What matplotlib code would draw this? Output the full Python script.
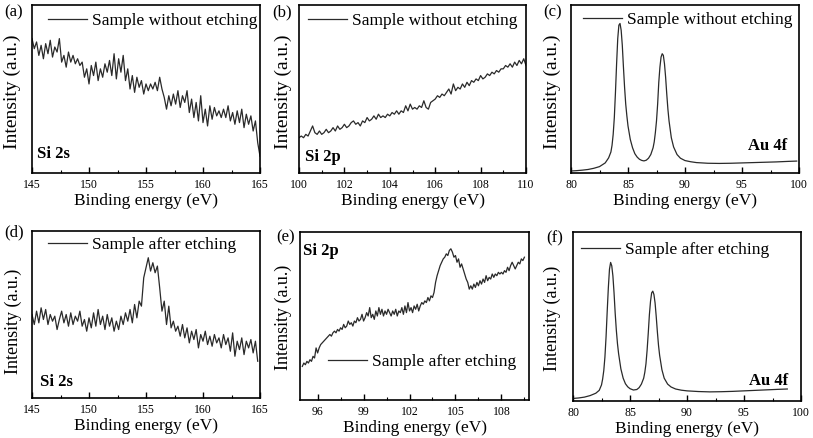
import numpy as np
import matplotlib.pyplot as plt
from matplotlib.ticker import MultipleLocator

plt.rcParams['font.family'] = ['Liberation Serif', 'DejaVu Serif']

W, H = 813, 438

# ---- data (intensity in % of panel height) ----
# (a) Si 2s, without etching: 145-165 eV, step 0.2 eV
si2s_before = [80, 74, 78, 70, 76, 68, 77, 71, 79, 69,
               75, 72, 80, 66, 70, 63, 72, 66, 70, 65,
               68, 64, 66, 57, 62, 53, 64, 58, 66, 55,
               62, 57, 65, 60, 67, 58, 71, 56, 68, 60,
               70, 55, 62, 50, 58, 48, 57, 51, 55, 47,
               53, 49, 53, 50, 54, 49, 57, 50, 45, 38,
               46, 40, 47, 41, 49, 39, 46, 42, 49, 36,
               44, 33, 42, 31, 46, 30, 38, 28, 40, 32,
               39, 34, 37, 33, 38, 33, 40, 31, 36, 29,
               37, 30, 38, 27, 35, 29, 34, 25, 31, 18,
               10]
# (d) Si 2s, after etching: 145-164.8 eV, step 0.2 eV
si2s_after = [50, 44, 52, 45, 54, 47, 53, 44, 50, 46,
              49, 41, 47, 52, 45, 50, 43, 51, 44, 49,
              46, 52, 43, 47, 40, 48, 42, 51, 43, 53,
              44, 49, 41, 50, 43, 48, 40, 46, 41, 49,
              44, 51, 46, 53, 45, 56, 48, 58, 55, 72,
              78, 84, 76, 81, 75, 79, 66, 52, 58, 44,
              55, 42, 46, 40, 43, 37, 44, 36, 42, 33,
              40, 35, 41, 30, 38, 34, 40, 32, 37, 31,
              38, 33, 36, 30, 38, 32, 36, 28, 39, 25,
              34, 29, 36, 26, 34, 30, 35, 27, 34, 22]
# (b) Si 2p, without etching: 100-110 eV, step 0.1 eV
si2p_before = [21, 22, 21, 23, 22, 25, 28, 24, 23, 25,
               23, 24, 26, 24, 25, 27, 25, 28, 26, 27,
               29, 27, 28, 30, 31, 29, 30, 28, 31, 30,
               33, 31, 32, 34, 32, 35, 33, 34, 33, 35,
               34, 36, 35, 37, 35, 37, 36, 40, 37, 41,
               38, 39, 38, 40, 39, 43, 39, 38, 42, 43,
               44, 46, 45, 47, 46, 48, 50, 47, 53, 49,
               51, 50, 53, 51, 54, 52, 55, 54, 56, 55,
               58, 56, 57, 59, 58, 60, 59, 61, 60, 62,
               62, 64, 63, 65, 63, 66, 64, 67, 65, 68,
               64]
# (e) Si 2p, after etching: 95-109.5 eV, step 0.1 eV
si2p_after = [20, 22, 21, 23, 22, 24, 23, 26, 25, 31,
              28, 31, 33, 34, 35, 36, 37, 38, 39, 38,
              40, 41, 40, 42, 41, 43, 42, 45, 43, 44,
              47, 45, 46, 44, 47, 46, 49, 47, 48, 51,
              47, 49, 52, 50, 55, 49, 51, 48, 53, 50,
              55, 51, 54, 50, 53, 51, 54, 52, 50, 53,
              51, 54, 50, 53, 52, 55, 51, 56, 52, 58,
              53, 55, 52, 56, 54, 57, 53, 56, 58, 57,
              59, 58, 61, 59, 62, 61, 64, 70, 74, 77,
              80, 82, 84, 85, 87, 86, 89, 90, 88, 85,
              86, 82, 84, 79, 81, 78, 75, 72, 70, 66,
              68, 66, 69, 67, 70, 68, 71, 69, 72, 70,
              74, 71, 73, 72, 75, 73, 75, 74, 76, 75,
              76, 75, 77, 76, 79, 77, 80, 82, 80, 78,
              80, 82, 81, 84, 83, 85]
# (c) Au 4f, without etching
au_before_e = [80.0, 80.5, 81.0, 81.5, 82.0, 82.5, 83.0, 83.3,
               83.5, 83.6, 83.7, 83.8, 83.9, 84.0, 84.1, 84.2, 84.3, 84.4,
               84.5, 84.6, 84.7, 84.8, 84.9, 85.0,
               85.2, 85.4, 85.6, 85.8, 86.0, 86.2, 86.4, 86.6, 86.8, 87.0, 87.2,
               87.3, 87.4, 87.5, 87.6, 87.7, 87.8, 87.9, 88.0, 88.1, 88.2,
               88.3, 88.4, 88.5, 88.6,
               88.8, 89.0, 89.3, 89.6, 90.0, 90.5, 91.0,
               92.0, 93.0, 94.0, 95.0, 96.0, 97.0, 98.0, 99.0, 99.8]
au_before_i = [1.2, 1.4, 1.7, 2.1, 2.8, 3.8, 6.0, 9,
               12.5, 16.5, 23, 33, 48, 65, 80, 88, 89, 85,
               76, 63, 51, 41, 34, 28,
               20, 15, 11.5, 9.5, 8.2, 7.5, 7.2, 7.6, 8.8, 11, 15,
               18.5, 24, 31, 41, 54, 63, 69, 71, 70, 65,
               57, 47, 38, 31,
               21, 15.5, 11, 8.8, 7.4, 6.7, 6.2,
               5.8, 5.7, 5.8, 6.0, 6.2, 6.4, 6.6, 6.9, 7.1]
# (f) Au 4f, after etching
au_after_e = [80.0, 80.5, 81.0, 81.5, 82.0, 82.3,
              82.5, 82.6, 82.7, 82.8, 82.9, 83.0, 83.1, 83.2, 83.3, 83.4,
              83.5, 83.6, 83.7, 83.8, 83.9,
              84.0, 84.2, 84.4, 84.6, 84.8, 85.0, 85.3, 85.6, 85.8, 86.0, 86.2,
              86.3, 86.4, 86.5, 86.6, 86.7, 86.8, 86.9, 87.0, 87.1, 87.2,
              87.3, 87.4, 87.5, 87.6,
              87.8, 88.0, 88.3, 88.6, 89.0, 89.5, 90.0,
              91.0, 92.0, 93.0, 94.0, 95.0, 96.0, 97.0, 98.0, 98.8]
au_after_i = [1.5, 1.8, 2.3, 3.2, 4.6, 6.3,
              9.5, 13, 18, 26, 38, 53, 67, 78, 82, 80,
              74, 64, 52, 42, 34,
              28, 19, 13.5, 10.2, 8.4, 7.3, 6.5, 6.8, 7.9, 10, 13.5,
              17, 22, 30, 40, 51, 59, 64, 65, 63, 58,
              50, 41, 33, 27,
              18.5, 13.5, 10, 8.3, 7.1, 6.4, 6.0,
              5.6, 5.4, 5.5, 5.7, 6.0, 6.3, 6.6, 6.9, 7.1]

legend_before = 'Sample without etching'
legend_after = 'Sample after etching'

fig = plt.figure(figsize=(W / 100, H / 100), dpi=100)


def px_axes(l, t, r, b):
    return fig.add_axes([l / W, 1 - b / H, (r - l) / W, (b - t) / H])


def fig_pt(x, y):
    return x / W, 1 - y / H


def setup(ax, xlim, major, minor, ylab_x, ylab_y, ylab_size):
    ax.set_xlim(*xlim)
    ax.set_ylim(0, 100)
    ax.set_yticks([])
    ax.xaxis.set_major_locator(MultipleLocator(major))
    ax.xaxis.set_minor_locator(MultipleLocator(minor))
    ax.tick_params(axis='x', which='major', direction='in', length=4,
                   width=1, labelsize=8.5, pad=4)
    ax.tick_params(axis='x', which='minor', direction='in', length=2, width=0.8)
    for sp in ax.spines.values():
        sp.set_linewidth(1.2)
    ax.set_xlabel('Binding energy (eV)', fontsize=12.5, labelpad=1.5)
    ax.set_ylabel('Intensity (a.u.)', fontsize=ylab_size)
    ax.yaxis.set_label_coords(*fig_pt(ylab_x, ylab_y), transform=fig.transFigure)


def add_legend(ax, x, y):
    ax.legend(loc='center left', bbox_to_anchor=fig_pt(x, y),
              bbox_transform=fig.transFigure, frameon=False, fontsize=12.5,
              handlelength=2.25, handletextpad=0.3, borderpad=0,
              borderaxespad=0)


line_kw = dict(color='#2a2a2a', lw=0.9)

# (a)
ax = px_axes(32, 5, 260, 173)
ax.plot(145 + 0.2 * np.arange(len(si2s_before)), si2s_before,
        label=legend_before, **line_kw)
setup(ax, (145, 165), 5, 2.5, 21, 92, 14)
add_legend(ax, 48, 21)

# (b)
ax = px_axes(299, 5, 526, 173)
ax.plot(100 + 0.1 * np.arange(len(si2p_before)), si2p_before,
        label=legend_before, **line_kw)
setup(ax, (100, 110), 2, 1, 292, 92, 14)
add_legend(ax, 308, 21)

# (c)
ax = px_axes(571, 5, 799, 173)
ax.plot(au_before_e, au_before_i, label=legend_before, **line_kw)
setup(ax, (80, 100), 5, 2.5, 561, 92, 14)
add_legend(ax, 583, 20)

# (d)
ax = px_axes(32, 231, 260, 398)
ax.plot(145 + 0.2 * np.arange(len(si2s_after)), si2s_after,
        label=legend_after, **line_kw)
setup(ax, (145, 165), 5, 2.5, 22, 321, 13)
add_legend(ax, 48, 245)

# (e)
ax = px_axes(300, 232, 529, 400)
ax.plot(95 + 0.1 * np.arange(len(si2p_after)), si2p_after,
        label=legend_after, **line_kw)
setup(ax, (94.85, 109.8), 3, 1.5, 292, 317, 13)
add_legend(ax, 328, 362)

# (f)
ax = px_axes(573, 232, 801, 401)
ax.plot(au_after_e, au_after_i, label=legend_after, **line_kw)
setup(ax, (80, 100), 5, 2.5, 561, 318, 13)
add_legend(ax, 581, 250)

# panel letters
for letter, (x, y) in zip('abcdef', [(14, 12), (282, 12), (553, 12),
                                     (14, 232), (286, 237), (555, 238)]):
    fig.text(*fig_pt(x, y), f'({letter})', fontsize=12, ha='center', va='center')

# core-level tags
for text, (x, y) in zip(['Si 2s', 'Si 2p', 'Au 4f', 'Si 2s', 'Si 2p', 'Au 4f'],
                        [(37, 154), (305, 157), (748, 146),
                         (40, 382), (303, 251), (749, 381)]):
    fig.text(*fig_pt(x, y), text, fontsize=12, fontweight='bold',
             ha='left', va='center')

fig.savefig('out.png', dpi=100)
